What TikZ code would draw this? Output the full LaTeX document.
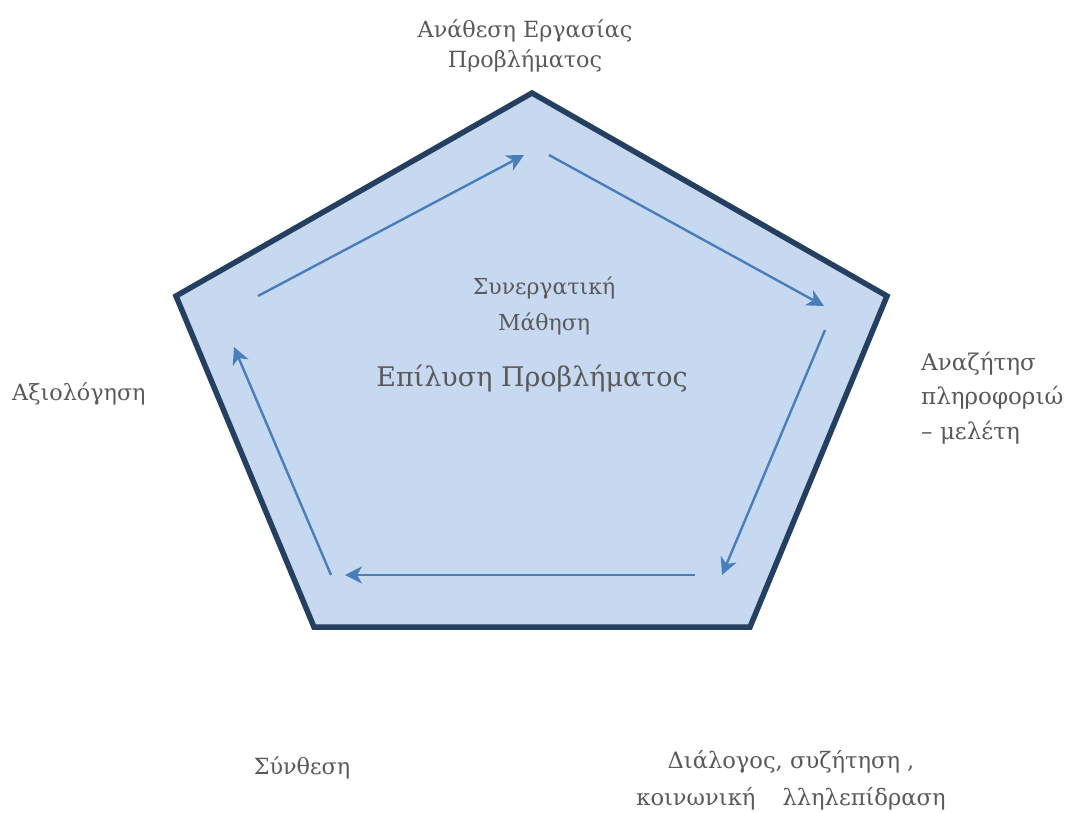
\documentclass[tikz,border=0pt]{standalone}
\usepackage{fontspec}
\setmainfont{DejaVu Serif}
\usetikzlibrary{arrows.meta}
\definecolor{penfill}{HTML}{C6D9F1}
\definecolor{penline}{HTML}{243F60}
\definecolor{arrowc}{HTML}{4A7EBB}
\definecolor{txt}{HTML}{595959}
\tikzset{
  flow/.style={draw=arrowc, line width=2.4pt, -{Stealth[length=17pt,width=17pt,inset=5pt]}},
  lab/.style={text=txt, font=\fontsize{22.3}{30}\selectfont, inner sep=0pt, align=center},
}
\begin{document}
\begin{tikzpicture}[x=1pt,y=-1pt]
\useasboundingbox (0,0) rectangle (1068,812);
\coordinate (T) at (532,93);
\coordinate (R) at (887,296);
\coordinate (BR) at (750,627);
\coordinate (BL) at (314,627);
\coordinate (L) at (176,296);
\draw[penline, fill=penfill, line width=5.5pt, line join=miter] (T) -- (R) -- (BR) -- (BL) -- (L) -- cycle;
\coordinate (a1s) at (258,296); \coordinate (a1e) at (524,155);
\coordinate (a2s) at (549,155); \coordinate (a2e) at (824,306);
\coordinate (a3s) at (825,330); \coordinate (a3e) at (722,575);
\coordinate (a4s) at (695,575); \coordinate (a4e) at (345,575);
\coordinate (a5s) at (331,575); \coordinate (a5e) at (234,347);
\draw[flow] (a1s) -- (a1e);
\draw[flow] (a2s) -- (a2e);
\draw[flow] (a3s) -- (a3e);
\draw[flow] (a4s) -- (a4e);
\draw[flow] (a5s) -- (a5e);
\node[lab] (top) at (525,46) {Ανάθεση Εργασίας\\Προβλήματος};
\node[lab, font=\fontsize{22}{36}\selectfont] (coop) at (544,306) {Συνεργατική\\Μάθηση};
\node[lab, font=\fontsize{27}{30}\selectfont] (center) at (532,379) {Επίλυση Προβλήματος};
\node[lab, align=left, anchor=west, font=\fontsize{23}{34.5}\selectfont] (search) at (921,398) {Αναζήτησ\\πληροφοριώ\\– μελέτη};
\node[lab, anchor=west] (eval) at (12,394) {Αξιολόγηση};
\node[lab] (synth) at (302,768) {Σύνθεση};
\node[lab, font=\fontsize{22.6}{37}\selectfont] (dial) at (791,780) {Διάλογος, συζήτηση ,\\κοινωνική\hspace{1.2em}λληλεπίδραση};
\end{tikzpicture}
\end{document}
